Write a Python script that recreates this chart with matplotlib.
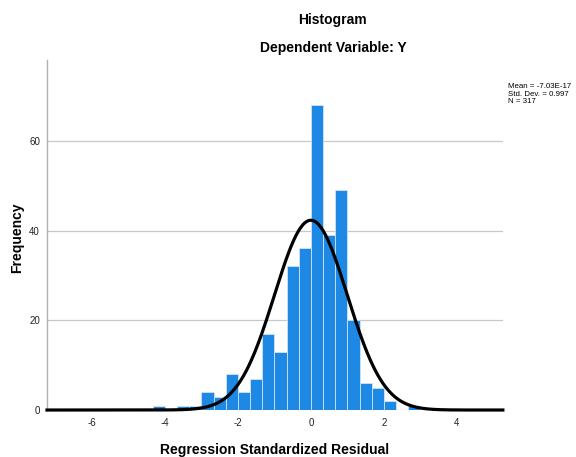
import numpy as np
import matplotlib.pyplot as plt

# Histogram bins (width 1/3) and counts
bin_start = -13  # first edge = -13/3
counts = [1, 0, 1, 1, 4, 3, 8, 4, 7, 17, 13, 32, 36, 68, 39, 49, 20, 6, 5, 2, 0, 1]
bin_width = 1 / 3

mean = -7.03e-17
std = 0.997
n = 317

xticks = [-6, -4, -2, 0, 2, 4]
yticks = [0, 20, 40, 60]

plt.rcParams['font.family'] = ['Liberation Sans', 'DejaVu Sans']
plt.rcParams['axes.unicode_minus'] = False

edges = (bin_start + np.arange(len(counts))) * bin_width

fig = plt.figure(figsize=(5.76, 4.57), dpi=100)
ax = fig.add_axes([0.0816, 0.1028, 0.7914, 0.766])

ax.bar(edges, counts, width=bin_width, align='edge', color='#1e88e5',
       edgecolor='#cfe4f7', linewidth=0.6, zorder=2)

# normal curve scaled to the histogram
xs = np.linspace(-7.23, 5.26, 400)
ys = n * bin_width * np.exp(-0.5 * ((xs - mean) / std) ** 2) / (std * np.sqrt(2 * np.pi))
ax.plot(xs, ys, color='black', linewidth=2.3, zorder=3, clip_on=False)

ax.set_xlim(-7.23, 5.26)
ax.set_ylim(0, 78)
ax.set_xticks(xticks)
ax.set_yticks(yticks)
ax.tick_params(axis='both', length=0, labelsize=7, colors='#222222')
ax.tick_params(axis='x', pad=6)
ax.tick_params(axis='y', pad=5)
ax.yaxis.grid(True, color='#c8c8c8', linewidth=0.9, zorder=0)
ax.set_axisbelow(True)
for side in ['top', 'right', 'bottom']:
    ax.spines[side].set_visible(False)
ax.spines['left'].set_color('#b0b0b0')
ax.spines['left'].set_linewidth(1.0)

fig.text(275 / 576, 1 - 450 / 457, 'Regression Standardized Residual',
         ha='center', va='center', fontsize=10, fontweight='bold')
fig.text(17 / 576, 1 - 238 / 457, 'Frequency', rotation=90,
         ha='center', va='center', fontsize=10, fontweight='bold')

fig.text(0.578, 0.956, 'Histogram', ha='center', va='center', fontsize=10, fontweight='bold')
fig.text(0.578, 0.895, 'Dependent Variable: Y', ha='center', va='center', fontsize=10, fontweight='bold')

fig.text(0.882, 0.818, 'Mean = -7.03E-17\nStd. Dev. = 0.997\nN = 317',
         ha='left', va='top', fontsize=5.7, linespacing=1.1)

fig.savefig('out.png', dpi=100)
